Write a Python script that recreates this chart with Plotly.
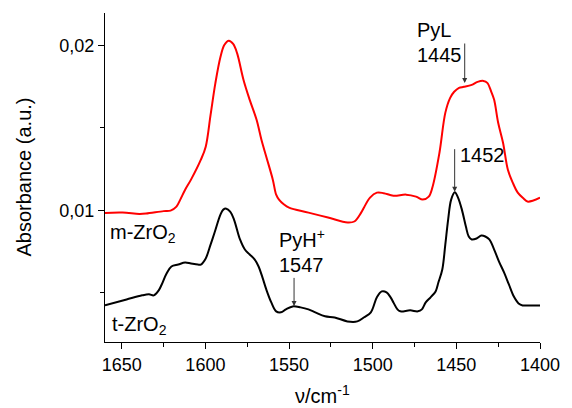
import plotly.graph_objects as go

# Wavenumber (cm^-1) and absorbance
m_wn = [1660, 1649.5, 1639.5, 1635.5, 1625, 1620.8, 1617.3, 1615, 1612.1, 1608.6,
        1602.7, 1599.8, 1596.9, 1594, 1591, 1588.7, 1586, 1583.4, 1581.1, 1577.2,
        1573.5, 1569.4, 1566.5, 1563.6, 1559.7, 1557.7, 1556, 1553, 1550, 1538.4,
        1526.7, 1515, 1511, 1506.9, 1505.1, 1501.6, 1497.5, 1493.4, 1487.6, 1480,
        1474.1, 1470.1, 1466.5, 1464.2, 1460.1, 1456.6, 1453.7, 1451.3, 1448.4, 1445.5,
        1440.8, 1437.3, 1433.8, 1431.5, 1429.1, 1427.4, 1425, 1422.1, 1419.2, 1416.3,
        1413.3, 1409.8, 1407.5, 1404, 1400]
m_abs = [0.00984, 0.00986, 0.00978, 0.00980, 0.00995, 0.00998, 0.01022, 0.01065, 0.01125, 0.01186,
         0.01307, 0.01386, 0.01579, 0.01773, 0.01930, 0.02003, 0.02029, 0.02009, 0.01955, 0.01791,
         0.01670, 0.01549, 0.01428, 0.01325, 0.01186, 0.01095, 0.01065, 0.01035, 0.01016, 0.00986,
         0.00956, 0.00926, 0.00932, 0.00986, 0.01019, 0.01077, 0.01107, 0.01104, 0.01089, 0.01095,
         0.01083, 0.01065, 0.01083, 0.01143, 0.01349, 0.01591, 0.01682, 0.01719, 0.01743, 0.01749,
         0.01761, 0.01779, 0.01785, 0.01773, 0.01719, 0.01670, 0.01531, 0.01410, 0.01246, 0.01168,
         0.01107, 0.01071, 0.01053, 0.01059, 0.01077]

t_wn = [1660, 1647.1, 1637.8, 1633.7, 1630.8, 1627.9, 1626.1, 1623.2, 1620.3, 1616.2,
        1612.1, 1608.6, 1604.5, 1602.7, 1599.8, 1596.9, 1594.5, 1591, 1589.3, 1587.5,
        1585.2, 1582.9, 1579.3, 1576.4, 1573.5, 1570.6, 1568.2, 1565.9, 1563.6, 1560.6,
        1557.7, 1554.8, 1551.9, 1547.8, 1543.1, 1538.4, 1534.3, 1528.5, 1522.7, 1515.1,
        1509.2, 1505.1, 1501.1, 1497.5, 1494.6, 1491.7, 1489.3, 1487.6, 1485.2, 1483.5,
        1477.6, 1473, 1470.6, 1468.3, 1465.4, 1462.4, 1460.7, 1458.4, 1456.6, 1454.9,
        1453.1, 1450.9, 1449, 1446.7, 1444.3, 1442.6, 1440.8, 1437.9, 1435, 1432.7,
        1430.3, 1427.4, 1424.5, 1421.5, 1418.6, 1415.7, 1412.8, 1410.4, 1405.8, 1400]
t_abs = [0.00423, 0.00459, 0.00484, 0.00490, 0.00484, 0.00514, 0.00550, 0.00617, 0.00659, 0.00671,
         0.00683, 0.00677, 0.00671, 0.00671, 0.00708, 0.00792, 0.00865, 0.00974, 0.01004, 0.01010,
         0.00992, 0.00944, 0.00823, 0.00762, 0.00732, 0.00702, 0.00659, 0.00593, 0.00520, 0.00441,
         0.00387, 0.00381, 0.00399, 0.00417, 0.00411, 0.00399, 0.00381, 0.00357, 0.00350, 0.00326,
         0.00326, 0.00351, 0.00381, 0.00472, 0.00508, 0.00502, 0.00472, 0.00441, 0.00399, 0.00387,
         0.00393, 0.00387, 0.00399, 0.00441, 0.00472, 0.00508, 0.00563, 0.00641, 0.00792, 0.00944,
         0.01065, 0.01109, 0.01077, 0.01004, 0.00901, 0.00841, 0.00823, 0.00829, 0.00847, 0.00841,
         0.00823, 0.00762, 0.00689, 0.00623, 0.00550, 0.00478, 0.00435, 0.00423, 0.00423, 0.00423]

x_tickvals = [1650, 1600, 1550, 1500, 1450, 1400]
y_tickvals = [0.01, 0.02]
y_ticktext = ["0,01", "0,02"]

FONT = "Arial, Liberation Sans, sans-serif"

fig = go.Figure()
fig.add_trace(go.Scatter(x=m_wn, y=m_abs, mode="lines",
                         line=dict(color="#ff0000", width=2, shape="spline", smoothing=1.0),
                         showlegend=False))
fig.add_trace(go.Scatter(x=t_wn, y=t_abs, mode="lines",
                         line=dict(color="#000000", width=2, shape="spline", smoothing=1.0),
                         showlegend=False))

fig.update_layout(
    width=572, height=408,
    margin=dict(l=105, r=22, t=13, b=66),
    paper_bgcolor="white", plot_bgcolor="white",
    font=dict(family=FONT, size=18, color="#000000"),
    showlegend=False,
)
fig.update_xaxes(
    range=[1660, 1400], showgrid=False, zeroline=False,
    showline=True, linecolor="#000000", linewidth=1.2,
    ticks="outside", ticklen=6, tickwidth=1, tickcolor="#000000",
    tickvals=x_tickvals, tickfont=dict(size=18, family=FONT),
    minor=dict(ticks="outside", ticklen=4, tickwidth=1, tickcolor="#000000",
               tick0=1400, dtick=25, showgrid=False),
)
fig.update_yaxes(
    range=[0.00201, 0.02197], showgrid=False, zeroline=False,
    showline=True, linecolor="#000000", linewidth=1.2,
    ticks="outside", ticklen=6, tickwidth=1, tickcolor="#000000",
    tickvals=y_tickvals, ticktext=y_ticktext, tickfont=dict(size=18, family=FONT),
    minor=dict(ticks="outside", ticklen=4, tickwidth=1, tickcolor="#000000",
               tick0=0, dtick=0.005, showgrid=False),
)

ann_font = dict(family=FONT, size=20, color="#000000")
annotations = [
    # axis titles
    dict(text="Absorbance (a.u.)", xref="paper", yref="paper", x=0, y=0.5,
         xshift=-82, textangle=-90, showarrow=False, font=ann_font,
         xanchor="center", yanchor="middle"),
    dict(text="\u03bd/cm<sup>-1</sup>", xref="paper", yref="paper", x=0.5, y=0,
         yshift=-52, showarrow=False, font=ann_font, xanchor="center", yanchor="middle"),
    # sample labels
    dict(text="m-ZrO<sub>2</sub>", x=1658.2, y=0.00860, showarrow=False, font=ann_font,
         xanchor="left", yanchor="middle"),
    dict(text="t-ZrO<sub>2</sub>", x=1657, y=0.00303, showarrow=False, font=ann_font,
         xanchor="left", yanchor="middle"),
    # band labels
    dict(text="PyL", x=1474.9, y=0.02094, showarrow=False, font=ann_font,
         xanchor="left", yanchor="middle"),
    dict(text="1445", x=1474.9, y=0.01942, showarrow=False, font=ann_font,
         xanchor="left", yanchor="middle"),
    dict(text="1452", x=1449, y=0.01337, showarrow=False, font=ann_font,
         xanchor="left", yanchor="middle"),
    dict(text="PyH<sup>+</sup>", x=1557.3, y=0.00829, showarrow=False, font=ann_font,
         xanchor="left", yanchor="middle"),
    dict(text="1547", x=1557.3, y=0.00671, showarrow=False, font=ann_font,
         xanchor="left", yanchor="middle"),
]
# arrows (tip at band, tail above)
arrow_style = dict(showarrow=True, arrowhead=2, arrowsize=1, arrowwidth=1,
                   arrowcolor="#333333", standoff=0, startstandoff=0, text="",
                   axref="x", ayref="y")
annotations += [
    dict(x=1445, y=0.01773, ax=1445, ay=0.02021, **arrow_style),
    dict(x=1451, y=0.01113, ax=1451, ay=0.01380, **arrow_style),
    dict(x=1547, y=0.00419, ax=1547, ay=0.00599, **arrow_style),
]
fig.update_layout(annotations=annotations)

fig.write_html("out.html")
